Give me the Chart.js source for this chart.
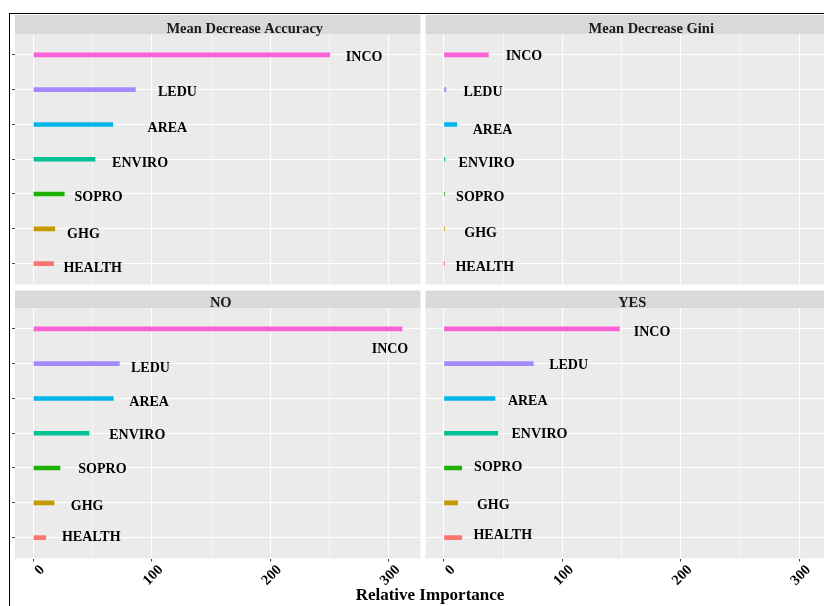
<!DOCTYPE html>
<html>
<head>
<meta charset="utf-8">
<script src="https://cdn.jsdelivr.net/npm/chart.js@4.4.1/dist/chart.umd.min.js"></script>
<style>
  html, body { margin: 0; padding: 0; background: #fff; }
  #page { position: relative; width: 824px; height: 606px; overflow: hidden; }
  #page canvas { position: absolute; left: 0; top: 0; }
  #frame { position: absolute; left: 9px; top: 12.5px; width: 900px; height: 700px; border: 1.5px solid #000; }
  #xtitle { position: absolute; left: 0; top: 586px; width: 860px; text-align: center;
            font: bold 17px "Liberation Serif", serif; line-height: 18px; color: #000; }
</style>
</head>
<body>
<div id="page">
  <div id="frame"></div>
  <canvas id="acc" width="840" height="606"></canvas>
  <canvas id="gini" width="840" height="606"></canvas>
  <canvas id="no" width="840" height="606"></canvas>
  <canvas id="yes" width="840" height="606"></canvas>
  <div id="xtitle">Relative Importance</div>
</div>
<script>
// variables, top to bottom
const variables = ['INCO', 'LEDU', 'AREA', 'ENVIRO', 'SOPRO', 'GHG', 'HEALTH'];
const varColors = ['#FB61D7', '#A58AFF', '#00B6EB', '#00C094', '#1DB100', '#C49A00', '#F8766D'];

const accuracy = [250, 86, 67, 52, 26, 18, 17];
const gini = [37.5, 1.7, 10.8, 0.9, 0.4, 0.3, 0.1];
const noClass = [311, 72.5, 67.4, 46.9, 22.4, 17.4, 10.4];
const yesClass = [148, 75.4, 43.1, 45.4, 15, 11.6, 15];

// where the (repelled) text labels sit, [importance, row]
const accLabels = [[279, 1.06], [121.5, 2.07], [113, 3.11], [90, 4.12], [55, 5.1], [42.2, 6.16], [50, 7.14]];
const giniLabels = [[67.5, 1.03], [33, 2.07], [41, 3.16], [36, 4.12], [30.6, 5.1], [31, 6.13], [34.4, 7.12]];
const noLabels = [[300.8, 1.6], [98.7, 2.15], [97.6, 3.11], [87.6, 4.06], [58.2, 5.05], [45.3, 6.1], [48.8, 6.98]];
const yesLabels = [[175.6, 1.09], [105.2, 2.05], [70.7, 3.09], [80.6, 4.04], [45.8, 4.98], [41.6, 6.07], [49.6, 6.93]];

const xTicks = [0, 100, 200, 300];

// ggplot style 5% expansion around 0..max
const dataMax = Math.max(...accuracy, ...gini, ...noClass, ...yesClass);
const xMin = -0.05 * dataMax;
const xMax = dataMax * 1.05;

const serif = '"Liberation Serif", "Times New Roman", serif';

const panelPlugin = {
    id: 'panel',
    beforeDraw(chart, args, opts) {
        const a = chart.chartArea;
        const ctx = chart.ctx;
        ctx.save();
        ctx.fillStyle = '#EBEBEB';
        ctx.fillRect(a.left, a.top, a.right - a.left, a.bottom - a.top);
        ctx.fillStyle = '#D9D9D9';
        ctx.fillRect(a.left, a.top - opts.stripHeight, a.right - a.left, opts.stripHeight);
        ctx.fillStyle = '#1a1a1a';
        ctx.font = 'bold 14.5px ' + serif;
        ctx.textAlign = 'center';
        ctx.textBaseline = 'alphabetic';
        ctx.fillText(opts.title, (a.left + a.right) / 2 + opts.titleShift, a.top - 1.5);
        ctx.restore();
    },
    afterDatasetsDraw(chart) {
        const ctx = chart.ctx;
        const ds = chart.data.datasets[0];
        const xs = chart.scales.x, ys = chart.scales.y;
        ctx.save();
        ctx.fillStyle = '#000';
        ctx.font = 'bold 14px ' + serif;
        ctx.textAlign = 'center';
        ctx.textBaseline = 'middle';
        ds.labelPos.forEach((p, i) => {
            ctx.fillText(variables[i], xs.getPixelForValue(p[0]), ys.getPixelForValue(p[1]));
        });
        ctx.restore();
    }
};

function makePanel(id, title, values, labelPos, opt) {
    return new Chart(document.getElementById(id), {
        type: 'bar',
        data: {
            datasets: [{
                data: values.map((v, i) => ({ x: v, y: i + 1 })),
                backgroundColor: varColors,
                borderWidth: 0,
                barThickness: 4,
                labelPos: labelPos
            }]
        },
        options: {
            indexAxis: 'y',
            responsive: false,
            animation: false,
            devicePixelRatio: 1,
            layout: { padding: opt.padding },
            plugins: {
                legend: { display: false },
                tooltip: { enabled: false },
                panel: { title: title, titleShift: opt.titleShift, stripHeight: opt.stripHeight }
            },
            scales: {
                x: {
                    type: 'linear',
                    min: xMin,
                    max: xMax,
                    afterBuildTicks: s => {
                        const t = [];
                        xTicks.forEach((v, i) => {
                            t.push({ value: v });
                            if (i < xTicks.length - 1) t.push({ value: (v + xTicks[i + 1]) / 2 });
                        });
                        s.ticks = t;
                    },
                    afterFit: s => { s.height = opt.bottom ? 40 : 0; },
                    border: { display: false },
                    grid: {
                        color: '#fff',
                        lineWidth: c => (xTicks.includes(c.tick.value) ? 1.1 : 0.55),
                        drawTicks: opt.bottom,
                        tickLength: 3,
                        tickWidth: 1,
                        tickColor: c => (xTicks.includes(c.tick.value) ? '#333' : 'rgba(0,0,0,0)')
                    },
                    ticks: {
                        display: opt.bottom,
                        autoSkip: false,
                        minRotation: 45,
                        maxRotation: 45,
                        padding: 0,
                        labelOffset: 9,
                        color: '#000',
                        font: { family: serif, weight: 'bold', size: 14.5 },
                        callback: v => (xTicks.includes(v) ? String(v) : '')
                    }
                },
                y: {
                    type: 'linear',
                    offset: false,
                    min: 0.4,
                    max: variables.length + 0.6,
                    reverse: true,
                    afterBuildTicks: s => { s.ticks = variables.map((v, i) => ({ value: i + 1 })); },
                    afterFit: s => { s.width = 0; },
                    border: { display: false },
                    grid: {
                        offset: false,
                        color: '#fff',
                        lineWidth: 1.1,
                        drawTicks: opt.left,
                        tickLength: 3,
                        tickWidth: 1,
                        tickColor: '#444'
                    },
                    ticks: { display: false }
                }
            }
        },
        plugins: [panelPlugin]
    });
}

makePanel('acc', 'Mean Decrease Accuracy', accuracy, accLabels,
    { padding: { left: 15, right: 419.5, top: 34, bottom: 321.5 }, titleShift: 27, stripHeight: 19, bottom: false, left: true });
makePanel('gini', 'Mean Decrease Gini', gini, giniLabels,
    { padding: { left: 425.5, right: 9, top: 34, bottom: 321.5 }, titleShift: 23, stripHeight: 19, bottom: false, left: false });
makePanel('no', 'NO', noClass, noLabels,
    { padding: { left: 15, right: 419.5, top: 308, bottom: 7.5 }, titleShift: 3, stripHeight: 17.5, bottom: true, left: true });
makePanel('yes', 'YES', yesClass, yesLabels,
    { padding: { left: 425.5, right: 9, top: 308, bottom: 7.5 }, titleShift: 4, stripHeight: 17.5, bottom: true, left: false });
</script>
</body>
</html>
